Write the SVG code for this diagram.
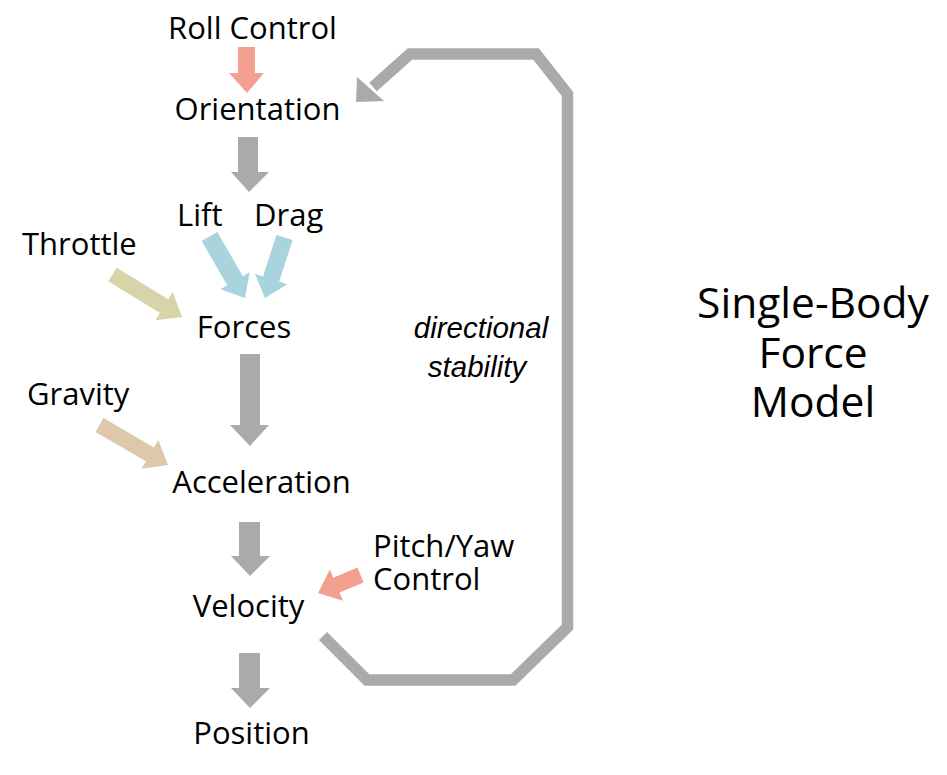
<svg xmlns="http://www.w3.org/2000/svg" width="947" height="775" viewBox="0 0 947 775">
<style>
.t{font-family:"Open Sans","Noto Sans",sans-serif;font-size:31px;fill:#000}
.c{text-anchor:middle}
.it{font-family:"Liberation Sans",Arial,sans-serif;font-style:italic;font-size:29.5px;fill:#000;text-anchor:middle}
.title{font-family:"Open Sans","Noto Sans",sans-serif;font-size:42.5px;fill:#000;text-anchor:middle}
.g{fill:#aaaaaa}
.s{fill:#f4a090}
.b{fill:#a8d4de}
.k{fill:#d8d4aa}
.n{fill:#dec8ac}
</style>
<rect width="947" height="775" fill="#fff"/>
<g id="connectors">
<polygon class="s" points="238,47 255,47 255,73 264,73 247,93 229,73 238,73"/>
<polygon class="g" points="238,137 258,137 258,172 269,172 249,192 231,172 238,172"/>
<polygon class="b" points="201.7,241 227.2,285.2 220.3,289.2 245,298 249.7,272.2 242.8,276.2 217.3,232"/>
<polygon class="b" points="276.4,234.9 263,276.4 254.9,273.8 265,298 287.3,284.2 279.2,281.6 292.6,240.1"/>
<polygon class="k" points="108.3,281.3 159.9,312.9 155.5,320.2 182,317 172.7,292 168.3,299.3 116.7,267.7"/>
<polygon class="g" points="240,354 260,354 260,425 269,425 250,446 230,425 240,425"/>
<polygon class="n" points="95.5,431.9 145.9,461.3 141.5,468.7 168,465 158.3,440.1 153.9,447.5 103.5,418.1"/>
<polygon class="g" points="239,522 260,522 260,556 270,556 250,576 231,556 239,556"/>
<polygon class="s" points="357.4,567.6 333.3,577.8 329.8,569.6 318,593 343,600.8 339.5,592.6 363.6,582.4"/>
<polygon class="g" points="239,653 260,653 260,688 270,688 250,708 231,688 239,688"/>
<path d="M323,636 L367,680 L513,680 L567.5,627 L567.5,94 L536,54 L410,54 L373,87" fill="none" stroke="#aaaaaa" stroke-width="11.5" stroke-linejoin="miter"/>
<polygon class="g" points="356,102 357,77 384,101"/>
</g>
<g id="roll-control"><text class="t c" x="252.5" y="39">Roll Control</text></g>
<g id="orientation"><text class="t c" x="257.5" y="120">Orientation</text></g>
<g id="lift"><text class="t" x="177" y="226">Lift</text></g>
<g id="drag"><text class="t" x="254" y="226">Drag</text></g>
<g id="throttle"><text class="t" x="22" y="255">Throttle</text></g>
<g id="forces"><text class="t c" x="244" y="338">Forces</text></g>
<g id="gravity"><text class="t" x="27" y="405">Gravity</text></g>
<g id="acceleration"><text class="t c" x="261.5" y="493">Acceleration</text></g>
<g id="velocity"><text class="t c" x="248.5" y="617">Velocity</text></g>
<g id="pitch-yaw-control"><text class="t" x="373" y="557">Pitch/Yaw<tspan x="373" y="590">Control</tspan></text></g>
<g id="position"><text class="t c" x="251.5" y="744">Position</text></g>
<g id="directional-stability"><text class="it" x="481" y="338">directional<tspan x="477" y="377">stability</tspan></text></g>
<g id="title"><text class="title" x="813" y="318">Single-Body<tspan x="813" y="368">Force</tspan><tspan x="813" y="417">Model</tspan></text></g>
</svg>
